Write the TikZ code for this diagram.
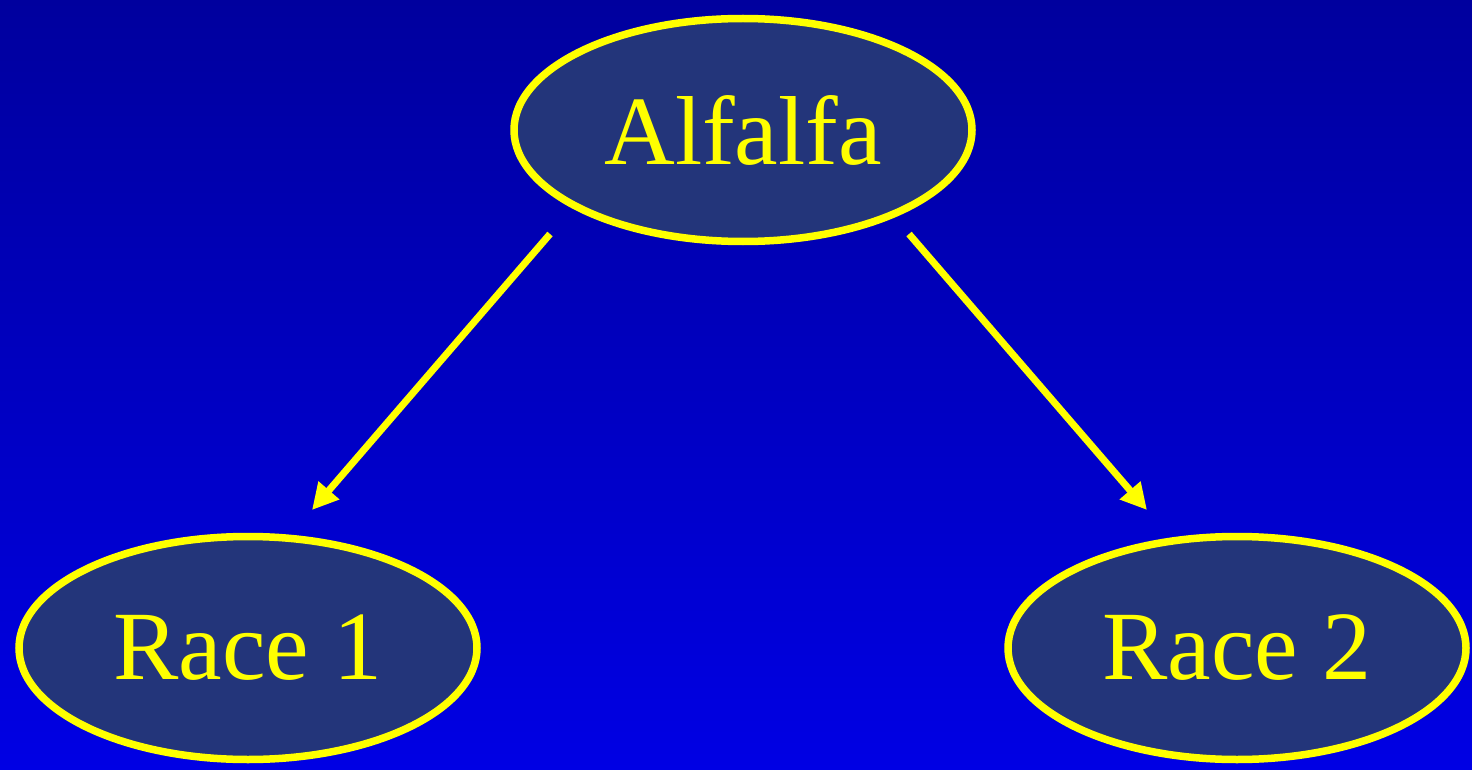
\documentclass[tikz,border=0pt]{standalone}
\usepackage{fontspec}
\setmainfont{Liberation Serif}
\usetikzlibrary{shapes.geometric,arrows.meta}
\definecolor{bgtop}{HTML}{00009E}
\definecolor{bgbot}{HTML}{0000E4}
\definecolor{nodefill}{HTML}{23357A}
\definecolor{ylw}{HTML}{FFFF00}
\begin{document}
\begin{tikzpicture}[x=1pt,y=-1pt,
  oval/.style={ellipse,draw=ylw,fill=nodefill,line width=7.5pt,inner sep=0pt,
    minimum width=458pt,minimum height=223pt,text=ylw,
    font=\fontsize{98}{110}\selectfont},
  link/.style={draw=ylw,line width=7pt,-{Triangle[length=26pt,width=26pt]}}]
\shade[top color=bgtop,bottom color=bgbot] (0,0) rectangle (1472,770);
\useasboundingbox (0,0) rectangle (1472,770);
\node[oval] (alf) at (743,130) {Alfalfa};
\node[oval] (r1) at (248,648) {Race 1};
\node[oval] (r2) at (1237,648) {Race 2};
\coordinate (s1) at (550,234);
\coordinate (e1) at (312,510);
\coordinate (s2) at (909,234);
\coordinate (e2) at (1147,510);
\draw[link] (s1) -- (e1);
\draw[link] (s2) -- (e2);
\end{tikzpicture}
\end{document}
